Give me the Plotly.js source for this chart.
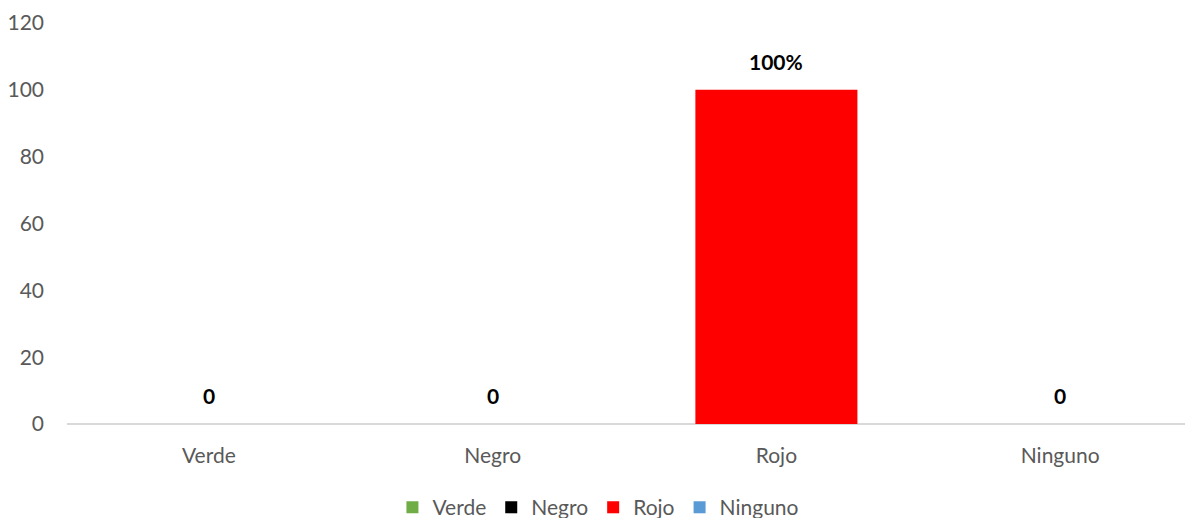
<!DOCTYPE html>
<html>
<head>
<meta charset="utf-8">
<script src="https://cdn.plot.ly/plotly-3.0.1.min.js"></script>
<style>html,body{margin:0;padding:0;background:#fff;}#chart{width:1185px;height:518px;}</style>
</head>
<body>
<div id="chart"></div>
<script>
const categories = ["Verde", "Negro", "Rojo", "Ninguno"];
const values = [0, 0, 100, 0];
const labels = ["0", "0", "100%", "0"];
const colors = ["#70AD47", "#000000", "#FF0000", "#5B9BD5"];
const yTicks = [0, 20, 40, 60, 80, 100, 120];

const FONT = "Lato, Carlito, 'Open Sans', sans-serif";

const traces = categories.map((c, i) => ({
  type: "bar",
  name: c,
  x: [c],
  y: [values[i]],
  width: 0.571,
  marker: {color: colors[i]},
  hoverinfo: "skip"
}));

const annotations = categories.map((c, i) => ({
  x: c, y: values[i], xref: "x", yref: "y",
  text: "<b>" + labels[i] + "</b>",
  showarrow: false, yanchor: "bottom", yshift: 14,
  font: {family: FONT, size: 21, color: "#000000"}
}));

const layout = {
  width: 1185, height: 518,
  margin: {l: 67, r: 0, t: 23, b: 94},
  paper_bgcolor: "#ffffff", plot_bgcolor: "#ffffff",
  barmode: "overlay",
  font: {family: FONT, color: "#595959", size: 20},
  xaxis: {
    type: "category",
    categoryarray: categories,
    range: [-0.5, 3.44],
    showline: false, showgrid: false, zeroline: false,
    ticks: "", ticklabelstandoff: 17,
    tickfont: {family: FONT, size: 21, color: "#595959"},
    fixedrange: true
  },
  yaxis: {
    range: [0, 120],
    tickvals: yTicks,
    showgrid: false, showline: false,
    zeroline: true, zerolinecolor: "#D9D9D9", zerolinewidth: 2,
    ticks: "", ticklabelstandoff: 22,
    tickfont: {family: FONT, size: 21, color: "#595959"},
    fixedrange: true
  },
  showlegend: true,
  legend: {
    orientation: "h",
    xref: "container", yref: "container",
    x: 0.505, xanchor: "center",
    y: 0.02, yanchor: "middle",
    font: {family: FONT, size: 21, color: "#595959"},
    itemwidth: 30,
    tracegroupgap: 0,
    traceorder: "normal"
  },
  annotations: annotations
};

Plotly.newPlot("chart", traces, layout, {displayModeBar: false, staticPlot: true});
</script>
</body>
</html>
